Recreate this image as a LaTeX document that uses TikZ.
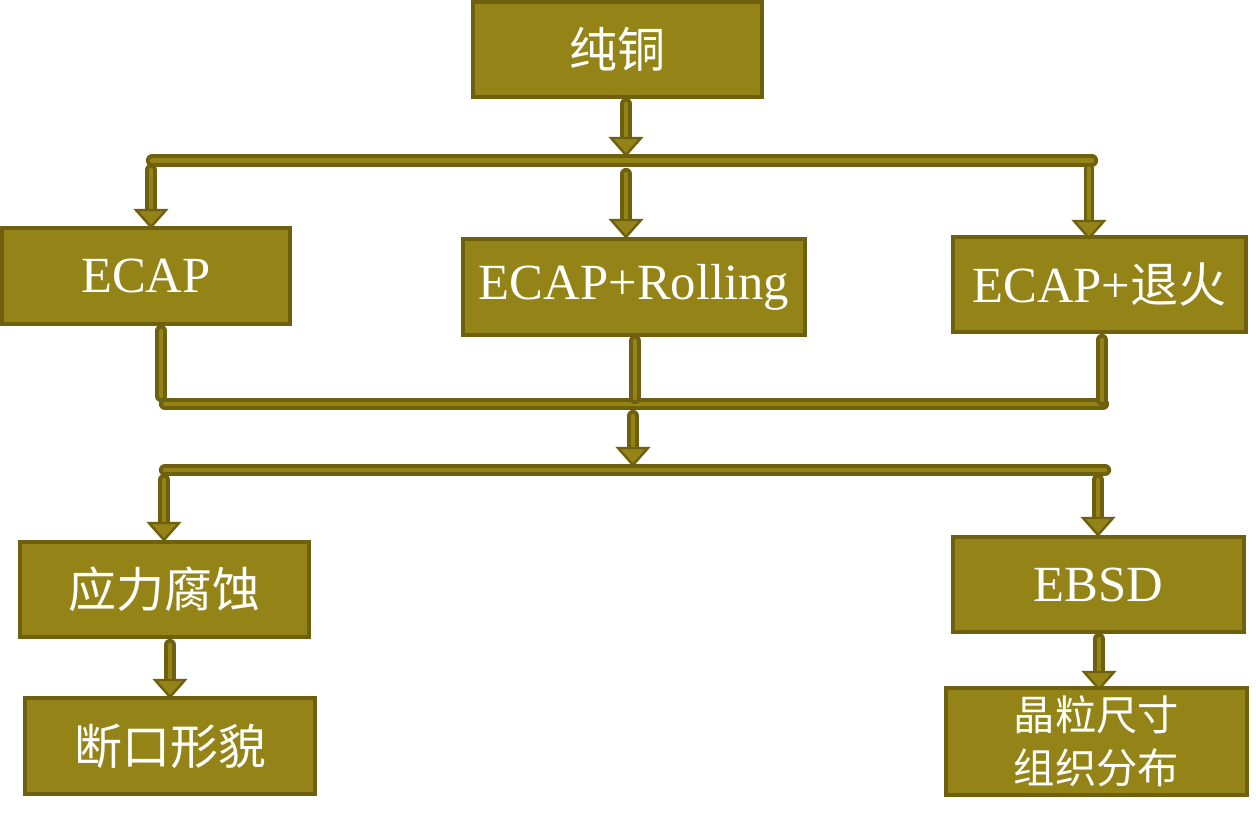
\documentclass[tikz,border=0pt]{standalone}
\usepackage{fontspec}
\setmainfont{Liberation Serif}
\newfontfamily\cjk{Noto Sans CJK SC}
\usetikzlibrary{calc}
\definecolor{olivefill}{RGB}{148,131,22}
\definecolor{olivedark}{RGB}{110,96,14}
\tikzset{
  box/.style={rectangle, fill=olivefill, draw=olivedark, line width=2.8pt, text=white, font=\fontsize{38}{40}\selectfont, inner sep=0pt, align=center},
  shaft/.style={draw=olivedark, line width=2.9pt, double=olivefill, double distance=3.4pt, line cap=round},
  thinshaft/.style={draw=olivedark, line width=2.5pt, double=olivefill, double distance=2.6pt, line cap=round},
  head/.style={fill=olivefill, draw=olivedark, line width=1.8pt, line join=miter}
}
\newcommand{\arrowto}[3]{% shaft style, start, tip
  \draw[#1] (#2) -- ($(#3)+(0,-15)$);
  \filldraw[head] ($(#3)+(-15,-17)$) -- (#3) -- ($(#3)+(15,-17)$) -- cycle;
}
\begin{document}
\begin{tikzpicture}[x=0.75pt,y=-0.75pt]
\useasboundingbox (0,0) rectangle (1256,815);
% boxes
\node[box, minimum width=289*0.75pt, minimum height=95*0.75pt] (cu) at (617.5,49.5) {\cjk\fontsize{36}{40}\selectfont 纯铜};
\node[box, minimum width=288*0.75pt, minimum height=96*0.75pt] (ecap) at (146,276) {\raisebox{-2pt}{ECAP}};
\node[box, minimum width=342*0.75pt, minimum height=96*0.75pt] (roll) at (634,287) {\raisebox{-2pt}{ECAP+Rolling}};
\node[box, minimum width=293*0.75pt, minimum height=95*0.75pt] (ann) at (1099.5,284.5) {\raisebox{-2pt}{ECAP+{\cjk\fontsize{36}{40}\selectfont 退火}}};
\node[box, minimum width=289*0.75pt, minimum height=95*0.75pt] (sc) at (164.5,589.5) {\cjk\fontsize{36}{40}\selectfont 应力腐蚀};
\node[box, minimum width=291*0.75pt, minimum height=95*0.75pt] (ebsd) at (1098.5,584.5) {EBSD};
\node[box, minimum width=290*0.75pt, minimum height=96*0.75pt] (frac) at (170,746) {\cjk\fontsize{36}{40}\selectfont 断口形貌};
\node[box, minimum width=301*0.75pt, minimum height=107*0.75pt, font=\fontsize{31}{40}\selectfont] (grain) at (1096.5,741.5) {\cjk 晶粒尺寸\\\cjk 组织分布};
% coordinates
\coordinate (a0s) at (626,104);
\coordinate (a0t) at (626,155);
\coordinate (b1l) at (152,160.5);
\coordinate (b1r) at (1092,160.5);
\coordinate (a1s) at (151,170);
\coordinate (a1t) at (151,227);
\coordinate (a2s) at (626,174);
\coordinate (a2t) at (626,237);
\coordinate (a3s) at (1089,168);
\coordinate (a3t) at (1089,238);
\coordinate (l1s) at (161,331);
\coordinate (l1e) at (161,396);
\coordinate (l2s) at (635,341);
\coordinate (l2e) at (635,398);
\coordinate (l3s) at (1102,340);
\coordinate (l3e) at (1102,400);
\coordinate (b2l) at (165,404);
\coordinate (b2r) at (1103,404);
\coordinate (a4s) at (633,416);
\coordinate (a4t) at (633,465);
\coordinate (b3l) at (165,470);
\coordinate (b3r) at (1105,470);
\coordinate (a5s) at (164,480);
\coordinate (a5t) at (164,540);
\coordinate (a6s) at (1098,480);
\coordinate (a6t) at (1098,535);
\coordinate (a7s) at (170,645);
\coordinate (a7t) at (170,697);
\coordinate (a8s) at (1099,639);
\coordinate (a8t) at (1099,689);
% bars
\draw[shaft] (b1l) -- (b1r);
\draw[shaft] (b2l) -- (b2r);
\draw[shaft] (b3l) -- (b3r);
% box bottom lines
\draw[shaft] (l1s) -- (l1e);
\draw[shaft] (l2s) -- (l2e);
\draw[shaft] (l3s) -- (l3e);
% arrows
\arrowto{shaft}{a0s}{a0t}
\arrowto{shaft}{a1s}{a1t}
\arrowto{shaft}{a2s}{a2t}
\arrowto{thinshaft}{a3s}{a3t}
\arrowto{shaft}{a4s}{a4t}
\arrowto{shaft}{a5s}{a5t}
\arrowto{shaft}{a6s}{a6t}
\arrowto{shaft}{a7s}{a7t}
\arrowto{shaft}{a8s}{a8t}
\end{tikzpicture}
\end{document}
